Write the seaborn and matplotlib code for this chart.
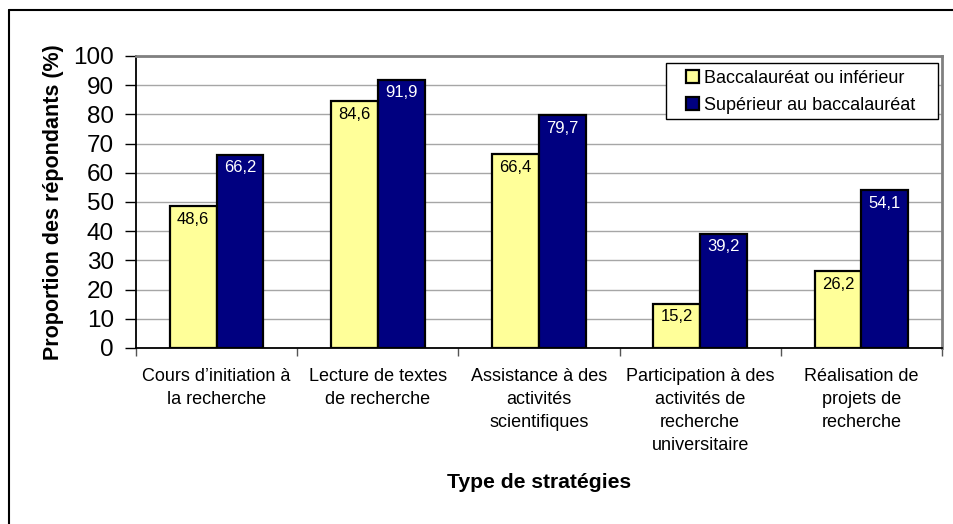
"""
Stratégies de recherche selon le niveau de scolarité - bar chart
"""
import matplotlib
matplotlib.use("Agg")
import matplotlib.pyplot as plt
from matplotlib.lines import Line2D
from matplotlib.patches import Rectangle
from matplotlib.ticker import FixedLocator
import seaborn as sns
import pandas as pd

# data
categories = [
    "Cours d\u2019initiation à\nla recherche",
    "Lecture de textes\nde recherche",
    "Assistance à des\nactivités\nscientifiques",
    "Participation à des\nactivités de\nrecherche\nuniversitaire",
    "Réalisation de\nprojets de\nrecherche",
]
groups = ["Baccalauréat ou inférieur", "Supérieur au baccalauréat"]
bac_ou_inf = [48.6, 84.6, 66.4, 15.2, 26.2]
sup_bac = [66.2, 91.9, 79.7, 39.2, 54.1]
colors = ["#FFFF99", "#000080"]

df = pd.DataFrame({
    "Stratégie": categories * 2,
    "Groupe": [groups[0]] * 5 + [groups[1]] * 5,
    "Valeur": bac_ou_inf + sup_bac,
})

sns.set_style("white")
plt.rcParams["font.family"] = ["Liberation Sans", "DejaVu Sans"]
plt.rcParams.update({"text.color": "black", "axes.labelcolor": "black",
                     "xtick.color": "black", "ytick.color": "black"})

fig = plt.figure(figsize=(9.54, 5.24), dpi=100)
ax = fig.add_axes([136 / 954, 1 - 348 / 524, 806 / 954, 292 / 524])

sns.barplot(data=df, x="Stratégie", y="Valeur", hue="Groupe", palette=colors,
            width=0.58, gap=0, edgecolor="black", linewidth=1.6,
            saturation=1, ax=ax, zorder=3)

# value labels inside top of bars
for cont, txtcol in zip(ax.containers, ["black", "white"]):
    txts = ax.bar_label(cont, labels=[f"{v:.1f}".replace(".", ",") for v in cont.datavalues],
                        padding=-4, label_type="edge", color=txtcol, fontsize=12)
    for t in txts:
        t.set_va("top")

ax.set_ylim(0, 100)
ax.set_xlim(-0.5, 4.5)
ax.set_yticks(range(0, 101, 10))
ax.yaxis.grid(True, color="#a6a6a6", linewidth=1, zorder=0)
ax.tick_params(axis="y", direction="out", length=8, width=1, pad=8,
               labelsize=17.5, left=True, color="black")
ax.tick_params(axis="x", which="major", length=0, pad=14.5, labelsize=13)
ax.xaxis.set_minor_locator(FixedLocator([-0.5, 0.5, 1.5, 2.5, 3.5, 4.5]))
ax.tick_params(axis="x", which="minor", direction="out", length=6, width=1,
               bottom=True, color="#555555")
for lab in ax.get_xticklabels():
    lab.set_linespacing(1.45)

for s in ["left", "bottom"]:
    ax.spines[s].set_color("black")
    ax.spines[s].set_linewidth(1.3)
for s in ["top", "right"]:
    ax.spines[s].set_color("#808080")
    ax.spines[s].set_linewidth(2)

ax.set_xlabel("Type de stratégies", fontsize=15.2, fontweight="bold")
ax.xaxis.set_label_coords(0.5, -0.459)
ax.xaxis.label.set_va("center")
ax.set_ylabel("Proportion des répondants (%)", fontsize=15.5, fontweight="bold")
ax.yaxis.set_label_coords(-0.102, 0.5)
ax.yaxis.label.set_va("center")

# legend, with a square box drawn around it like the spreadsheet one
leg = ax.legend(loc="upper left", bbox_to_anchor=(0.682, 0.952),
                borderaxespad=0, borderpad=0, fontsize=13, frameon=False,
                handlelength=0.72, handleheight=0.72, handletextpad=0.3,
                labelspacing=0.55)
leg.set_zorder(6)
for h in leg.legend_handles:
    h.set_edgecolor("black")
    h.set_linewidth(1.6)
ax.add_patch(Rectangle((0.6576, 0.784), 0.3375, 0.192, transform=ax.transAxes,
                       facecolor="white", edgecolor="black", lw=1, zorder=5,
                       clip_on=False))

# outer chart frame (left and top edges)
fig.add_artist(Line2D([9.5 / 954, 9.5 / 954], [0, 1 - 9.5 / 524], color="black", lw=1.5))
fig.add_artist(Line2D([9.5 / 954, 1], [1 - 9.5 / 524, 1 - 9.5 / 524], color="black", lw=1.5))

fig.savefig("out.png", dpi=100)
